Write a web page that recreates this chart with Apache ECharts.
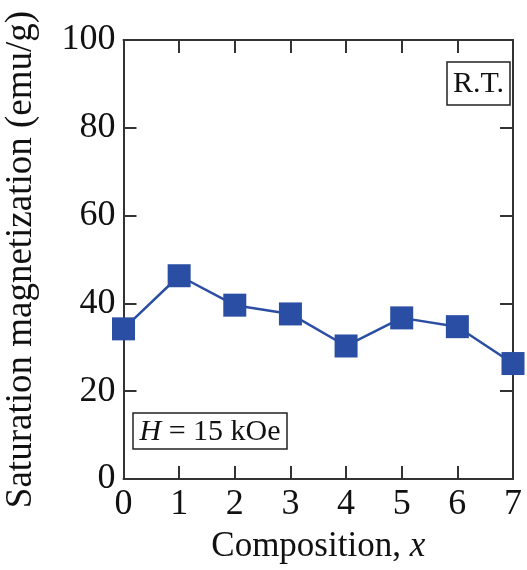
<!DOCTYPE html>
<html><head><meta charset="utf-8">
<script src="https://cdn.jsdelivr.net/npm/echarts@6/dist/echarts.min.js"></script>
<style>html,body{margin:0;padding:0;background:#fff}#c{width:527px;height:570px}</style>
</head><body><div id="c"></div>
<script>
const composition = [0, 1, 2, 3, 4, 5, 6, 7];
const magnetization = [34.2, 46.3, 39.6, 37.6, 30.3, 36.7, 34.7, 26.3];
const xTicks = [0, 1, 2, 3, 4, 5, 6, 7];
const yTicks = [0, 20, 40, 60, 80, 100];

const FONT = 'Liberation Serif';
const chart = echarts.init(document.getElementById('c'), null, {renderer: 'canvas'});
function axisCommon() {
  return {
    axisLine: {show: true, onZero: false, lineStyle: {color: '#333', width: 2}},
    axisTick: {show: true, inside: true, length: 13, lineStyle: {color: '#333', width: 2}},
    splitLine: {show: false}
  };
}
chart.setOption({
  animation: false,
  backgroundColor: '#fff',
  grid: {left: 123.5, top: 40, right: 14, bottom: 91, containLabel: false, outerBoundsMode: 'none'},
  xAxis: [Object.assign({
    type: 'value', min: 0, max: 7, interval: 1, position: 'bottom',
    axisLabel: {fontFamily: FONT, fontSize: 36, color: '#111', margin: 8},
    name: '{n|Composition, }{i|x}', nameLocation: 'middle', nameGap: 50,
    nameTextStyle: {rich: {n: {fontFamily: FONT, fontSize: 35, color: '#111'}, i: {fontFamily: FONT, fontSize: 35, fontStyle: 'italic', color: '#111'}}}
  }, axisCommon()), Object.assign({
    type: 'value', min: 0, max: 7, interval: 1, position: 'top',
    axisLabel: {show: false}
  }, axisCommon())],
  yAxis: [Object.assign({
    type: 'value', min: 0, max: 100, interval: 20, position: 'left',
    axisLabel: {fontFamily: FONT, fontSize: 36, color: '#111', margin: 8},
    name: 'Saturation magnetization (emu/g)', nameLocation: 'middle', nameGap: 84,
    nameTextStyle: {fontFamily: FONT, fontSize: 37, color: '#111'}
  }, axisCommon()), Object.assign({
    type: 'value', min: 0, max: 100, interval: 20, position: 'right',
    axisLabel: {show: false}
  }, axisCommon())],
  series: [{
    type: 'line',
    xAxisIndex: 0, yAxisIndex: 0,
    data: composition.map((c, i) => [c, magnetization[i]]),
    symbol: 'rect', symbolSize: 23,
    itemStyle: {color: '#2a4ea3'},
    lineStyle: {color: '#2a4ea3', width: 2.5},
    clip: false
  }],
  graphic: [
    {type: 'rect', shape: {x: 447, y: 62, width: 63, height: 43}, style: {fill: '#fff', stroke: '#222', lineWidth: 1.5}, z: 10},
    {type: 'text', x: 478.5, y: 84, style: {text: 'R.T.', fontFamily: FONT, fontSize: 30, fill: '#111', align: 'center', verticalAlign: 'middle'}, z: 11},
    {type: 'rect', shape: {x: 133, y: 413, width: 154, height: 36}, style: {fill: '#fff', stroke: '#222', lineWidth: 1.5}, z: 10},
    {type: 'text', x: 210, y: 432, style: {text: '{i|H} = 15 kOe', fontFamily: FONT, fontSize: 30, fill: '#111', align: 'center', verticalAlign: 'middle',
      rich: {i: {fontFamily: FONT, fontSize: 30, fontStyle: 'italic', fill: '#111'}}}, z: 11}
  ]
});
</script></body></html>
